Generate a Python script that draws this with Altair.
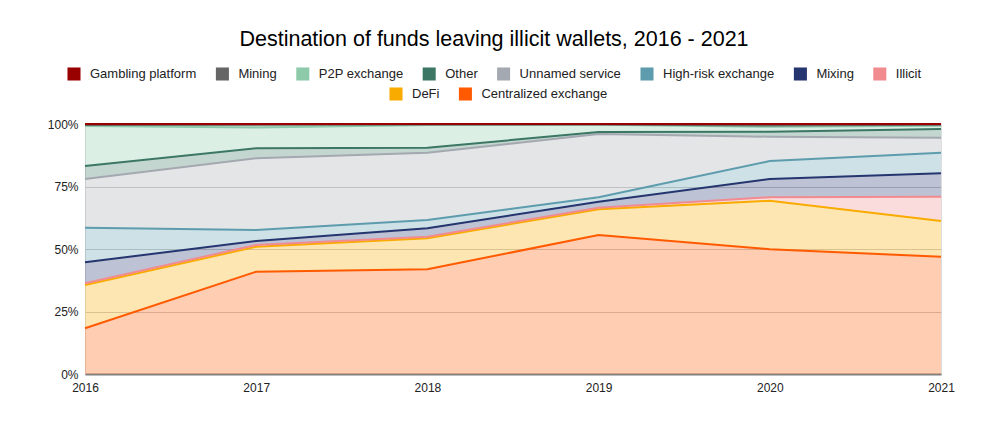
import altair as alt
import pandas as pd

years = [2016, 2017, 2018, 2019, 2020, 2021]

# share of funds (%) per destination, bottom of stack first
centralized = [18.3, 40.9, 41.9, 55.6, 49.9, 46.9]
defi        = [17.3, 10.0, 12.4, 10.3, 19.4, 14.3]
illicit     = [0.7, 0.7, 0.6, 0.6, 1.4, 9.7]
mixing      = [8.4, 1.6, 3.4, 2.4, 7.3, 9.4]
high_risk   = [13.8, 4.4, 3.3, 1.8, 7.2, 8.2]
unnamed     = [19.5, 28.7, 26.9, 25.3, 9.7, 6.0]
other       = [5.2, 4.0, 2.0, 0.8, 2.0, 3.5]
p2p         = [16.0, 8.3, 9.1, 2.9, 2.0, 1.3]
mining      = [0.4, 1.1, 0.2, 0.15, 0.5, 0.4]
gambling    = [0.4, 0.3, 0.2, 0.15, 0.6, 0.3]

series_names = ["Centralized exchange", "DeFi", "Illicit", "Mixing", "High-risk exchange",
                "Unnamed service", "Other", "P2P exchange", "Mining", "Gambling platform"]
series_values = [centralized, defi, illicit, mixing, high_risk, unnamed, other, p2p, mining, gambling]
series_colors = ["#ff5a00", "#f9ab00", "#f28b8f", "#25356f", "#5d9cad",
                 "#a4a8b0", "#3b7764", "#8ccaa9", "#666666", "#990000"]

legend_row1 = ["Gambling platform", "Mining", "P2P exchange", "Other", "Unnamed service",
               "High-risk exchange", "Mixing", "Illicit"]
legend_row2 = ["DeFi", "Centralized exchange"]

color_of = dict(zip(series_names, series_colors))

rows = []
for i, yr in enumerate(years):
    total = sum(v[i] for v in series_values)
    base = 0.0
    for name, vals in zip(series_names, series_values):
        share = vals[i] / total
        rows.append({"year": yr, "series": name, "order": series_names.index(name),
                     "y0": base, "y1": base + share})
        base += share
df = pd.DataFrame(rows)

FONT = "Liberation Sans"

x_enc = alt.X("year:Q", scale=alt.Scale(domain=[2016, 2021], nice=False, zero=False),
              axis=alt.Axis(values=years, format="d", title=None, grid=False, ticks=False,
                            domainColor="#808080", domainWidth=2, labelFlush=False,
                            labelOverlap=False, labelFontSize=12, labelColor="#222222",
                            labelFont=FONT, labelPadding=8))
y_enc = alt.Y("y1:Q", scale=alt.Scale(domain=[0, 1], nice=False),
              axis=alt.Axis(values=[0, 0.25, 0.5, 0.75, 1], format=".0%", title=None,
                            domain=False, ticks=False, gridColor="#cccccc",
                            labelFontSize=12, labelColor="#222222", labelFont=FONT,
                            labelPadding=7))

color_scale = alt.Scale(domain=series_names, range=series_colors)

areas = alt.Chart(df).mark_area(opacity=0.3, line=False).encode(
    x=x_enc, y=y_enc, y2="y0:Q",
    color=alt.Color("series:N", scale=color_scale, legend=None),
    order=alt.Order("order:Q"),
)

lines = alt.Chart(df).mark_line(strokeWidth=2).encode(
    x=x_enc, y=y_enc,
    color=alt.Color("series:N", scale=color_scale, legend=None),
    order=alt.Order("year:Q"),
)

def legend_layer(names, lx, ly):
    sub = df[df["series"].isin(names)]
    return alt.Chart(sub).mark_square(opacity=0).encode(
        x=x_enc, y=y_enc,
        fill=alt.Fill("series:N",
                      scale=alt.Scale(domain=names, range=[color_of[n] for n in names]),
                      legend=alt.Legend(orient="none", legendX=lx, legendY=ly,
                                        direction="horizontal", title=None,
                                        symbolType="square", symbolSize=170,
                                        symbolOpacity=1, symbolStrokeWidth=0,
                                        labelFontSize=13, labelFont=FONT,
                                        labelColor="#222222", labelOffset=9,
                                        columnPadding=18.4, padding=0)),
    )

leg1 = legend_layer(legend_row1, -18, -57)
leg2 = legend_layer(legend_row2, 304, -37)

chart = alt.layer(areas, lines, leg1, leg2).resolve_scale(fill="independent").properties(
    width=856, height=250,
    title=alt.TitleParams("Destination of funds leaving illicit wallets, 2016 - 2021",
                          fontSize=21.5, font=FONT, fontWeight="normal", color="#000000",
                          anchor="middle", frame="group", offset=17, dx=-19),
    autosize=alt.AutoSizeParams(type="none"),
    padding={"left": 85, "top": 124, "right": 61, "bottom": 73},
).configure_view(stroke=None).configure(background="white")

chart.save("out.html", embed_options={"renderer": "svg", "actions": False})
